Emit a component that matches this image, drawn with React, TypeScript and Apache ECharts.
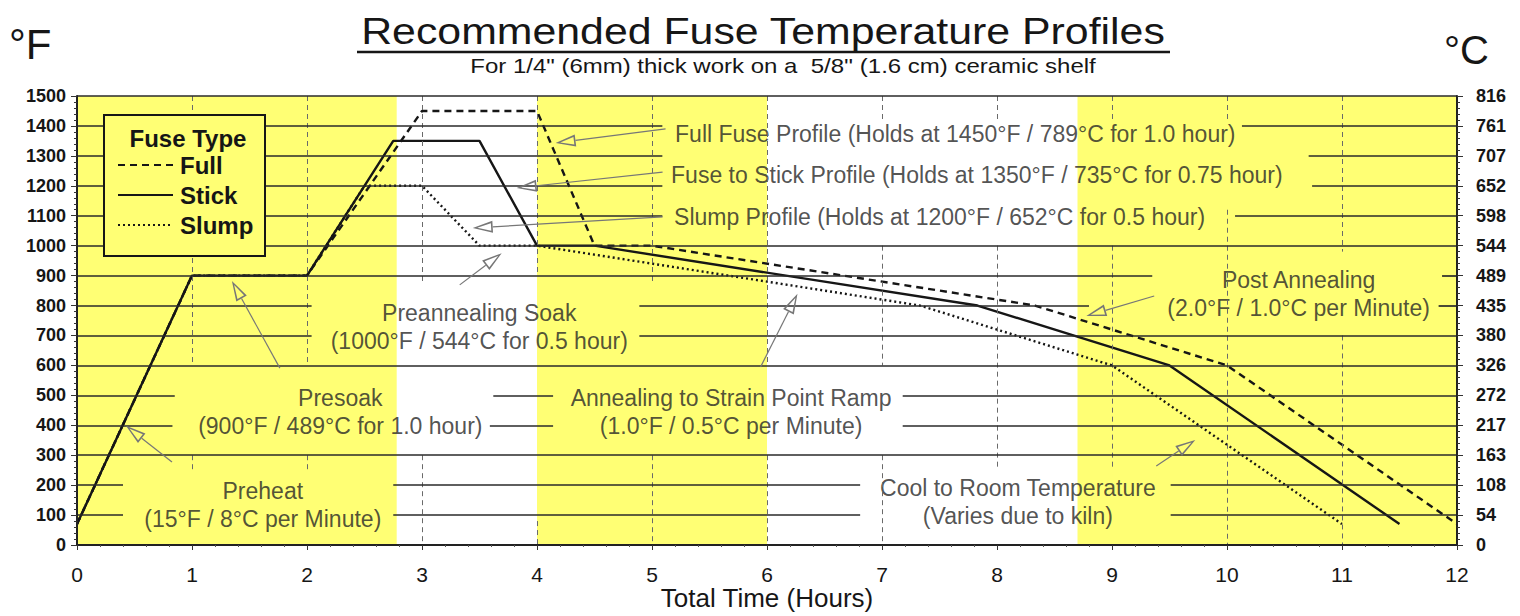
import { useEffect, useRef } from 'react';
import * as echarts from 'echarts';

// ---------------- data ----------------
const HOUR_TICKS = [0, 1, 2, 3, 4, 5, 6, 7, 8, 9, 10, 11, 12];
const FAHRENHEIT_MAX = 1500;
const CELSIUS_TICK_LABELS = ['0', '54', '108', '163', '217', '272', '326', '380', '435', '489', '544', '598', '652', '707', '761', '816'];

const FULL_TIME = [0, 1, 2, 3, 4, 4.5, 5, 8.33, 10, 12];
const FULL_TEMP = [70, 900, 900, 1450, 1450, 1000, 1000, 800, 600, 70];
const STICK_TIME = [0, 1, 2, 2.75, 3.5, 4, 4.5, 7.83, 9.5, 11.5];
const STICK_TEMP = [70, 900, 900, 1350, 1350, 1000, 1000, 800, 600, 70];
const SLUMP_TIME = [0, 1, 2, 2.5, 3, 3.5, 4, 7.33, 9, 11];
const SLUMP_TEMP = [70, 900, 900, 1200, 1200, 1000, 1000, 800, 600, 70];

const SHADED_PERIODS = [[0, 2.78], [4, 6], [8.7, 12]];

const SERIES_NAMES = ['Full', 'Stick', 'Slump'];
const TITLE = 'Recommended Fuse Temperature Profiles';
const SUBTITLE = 'For 1/4" (6mm) thick work on a  5/8\'\' (1.6 cm) ceramic shelf';
const ANNOTATION_TEXTS = [
  'Full Fuse Profile (Holds at 1450°F / 789°C for 1.0 hour)',
  'Fuse to Stick Profile (Holds at 1350°F / 735°C for 0.75 hour)',
  'Slump Profile (Holds at 1200°F / 652°C for 0.5 hour)',
  'Preannealing Soak\n(1000°F / 544°C for 0.5 hour)',
  'Presoak\n(900°F / 489°C for 1.0 hour)',
  'Preheat\n(15°F / 8°C per Minute)',
  'Annealing to Strain Point Ramp\n(1.0°F / 0.5°C per Minute)',
  'Post Annealing\n(2.0°F / 1.0°C per Minute)',
  'Cool to Room Temperature\n(Varies due to kiln)',
];

// ---------------- layout (not data) ----------------
const W = 1520;
const H = 616;
const GRID = { left: 77, right: 63, top: 96, bottom: 71 };
const PX_PER_HOUR = (W - GRID.left - GRID.right) / 12;
const PX_PER_DEG = (H - GRID.top - GRID.bottom) / FAHRENHEIT_MAX;
const FONT = "'Liberation Sans', Arial, Helvetica, sans-serif";
const YELLOW = '#ffff74';
const INK = '#161616';

const ANNOTATION_LAYOUT: { at: number[]; align: string }[] = [
  { at: [5.205, 1370], align: 'left' },
  { at: [5.17, 1233], align: 'left' },
  { at: [5.196, 1093], align: 'left' },
  { at: [3.502, 728], align: 'center' },
  { at: [2.294, 441], align: 'center' },
  { at: [1.62, 131], align: 'center' },
  { at: [5.692, 441], align: 'center' },
  { at: [10.627, 836], align: 'center' },
  { at: [8.186, 141], align: 'center' },
];

// [start, tip] of each leader arrow
const ARROW_LAYOUT: number[][][] = [
  [[5.118, 1390], [4.162, 1343]],
  [[5.092, 1246], [3.823, 1193]],
  [[5.092, 1096], [3.441, 1059]],
  [[3.328, 869], [3.693, 975]],
  [[1.764, 591], [1.347, 882]],
  [[0.826, 277], [0.426, 398]],
  [[5.944, 595], [6.265, 839]],
  [[9.367, 832], [8.777, 765]],
  [[9.385, 264], [9.724, 351]],
];

// horizontal rules, broken where the notes sit: [y, [[x1, x2], ...]]
const H_RULES: [number, number[][]][] = [
  [1500, [[0, 12]]],
  [1400, [[0, 5.09], [10.13, 12]]],
  [1300, [[0, 5.09], [10.71, 12]]],
  [1200, [[0, 5.09], [10.74, 12]]],
  [1100, [[0, 5.09], [10.07, 12]]],
  [1000, [[0, 12]]],
  [900, [[0, 9.35], [11.87, 12]]],
  [800, [[0, 2.04], [4.89, 8.8], [11.84, 12]]],
  [700, [[0, 2.04], [4.89, 12]]],
  [600, [[0, 12]]],
  [500, [[0, 0.85], [3.62, 4.14], [7.18, 12]]],
  [400, [[0, 0.83], [3.59, 4.14], [7.18, 12]]],
  [300, [[0, 12]]],
  [200, [[0, 0.4], [2.75, 6.81], [9.51, 12]]],
  [100, [[0, 0.4], [2.75, 6.81], [9.51, 12]]],
];

// dashed vertical rules: [x, [[yTop, yBottom], ...]]
const V_RULES: [number, number[][]][] = [
  [1, [[1500, 600], [300, 250]]],
  [2, [[1500, 600], [300, 250]]],
  [3, [[1500, 880], [300, 0]]],
  [4, [[1500, 900], [80, 0]]],
  [5, [[1500, 880], [300, 0]]],
  [6, [[1500, 600], [300, 0]]],
  [7, [[1500, 1420], [1000, 600], [300, 0]]],
  [8, [[1500, 1420], [1000, 250]]],
  [9, [[1500, 1420], [1000, 260]]],
  [10, [[1500, 1420], [1120, 0]]],
  [11, [[1500, 980], [700, 0]]],
];

const ARROW_HEAD = 'path://M0,0L10,20L-10,20ZM0,4.6L-6.3,18.4L6.3,18.4ZM0,40';

const zip = (xs: number[], ys: number[]) => xs.map((x, i) => [x, ys[i]]);
const seg = (a: number[], b: number[]) => [{ coord: a }, { coord: b }];

function arrowBase(start: number[], tip: number[], len: number) {
  const dx = (start[0] - tip[0]) * PX_PER_HOUR;
  const dy = (start[1] - tip[1]) * PX_PER_DEG;
  const d = Math.hypot(dx, dy);
  return [tip[0] + ((dx / d) * len) / PX_PER_HOUR, tip[1] + ((dy / d) * len) / PX_PER_DEG];
}

function gText(text: string, x: number, y: number, fontSize: number, opts: any = {}) {
  return {
    type: 'text',
    x,
    y,
    z: 30,
    scaleX: opts.scaleX ?? 1,
    silent: true,
    style: {
      text,
      fontSize,
      fontFamily: FONT,
      fontWeight: opts.weight ?? 'normal',
      fill: INK,
      align: opts.align ?? 'center',
      verticalAlign: opts.vAlign ?? 'middle',
      textAlign: opts.align ?? 'center',
      textVerticalAlign: opts.vAlign ?? 'middle',
    },
  };
}

function buildOption(): any {
  const hRuleData = H_RULES.flatMap(([y, spans]) => spans.map(([x1, x2]) => seg([x1, y], [x2, y])));
  const vRuleData = V_RULES.flatMap(([x, spans]) => spans.map(([y1, y2]) => seg([x, y1], [x, y2])));
  const arrowData = ARROW_LAYOUT.map(([start, tip]) => seg(start, arrowBase(start, tip, 20)));

  const profileStyles: any[] = [
    { type: [7, 5], width: 2.4 },
    { type: 'solid', width: 2.4 },
    { type: [2, 3], width: 2.4 },
  ];
  const profileData = [zip(FULL_TIME, FULL_TEMP), zip(STICK_TIME, STICK_TEMP), zip(SLUMP_TIME, SLUMP_TEMP)];

  return {
    animation: false,
    backgroundColor: '#ffffff',
    grid: { ...GRID, show: false, containLabel: false, outerBoundsMode: 'none' },
    legend: {
      show: true,
      data: SERIES_NAMES,
      orient: 'vertical',
      left: 112,
      top: 148,
      itemWidth: 55,
      itemHeight: 24,
      itemGap: 6,
      z: 40,
      selectedMode: false,
      itemStyle: { color: 'rgba(0,0,0,0)', opacity: 0, borderWidth: 0 },
      textStyle: { fontSize: 24, fontWeight: 'bold', fontFamily: FONT, color: INK, padding: [0, 0, 0, 2] },
    },
    xAxis: {
      type: 'value',
      z: 6,
      min: HOUR_TICKS[0],
      max: HOUR_TICKS[HOUR_TICKS.length - 1],
      interval: 1,
      name: 'Total Time (Hours)',
      nameLocation: 'middle',
      nameMoveOverlap: false,
      nameGap: 66,
      nameTextStyle: { fontSize: 26, fontFamily: FONT, color: INK, verticalAlign: 'bottom' },
      axisLine: { show: true, lineStyle: { color: '#222', width: 2 } },
      axisTick: { show: true, length: 5, lineStyle: { color: '#333' } },
      minorTick: { show: true, splitNumber: 5, length: 2, lineStyle: { color: '#555' } },
      axisLabel: { fontSize: 21, fontFamily: FONT, color: INK, margin: 19 },
      splitLine: { show: false },
    },
    yAxis: [
      {
        type: 'value',
        z: 6,
        min: 0,
        max: FAHRENHEIT_MAX,
        interval: 100,
        position: 'left',
        axisLine: { show: true, lineStyle: { color: '#222', width: 2 } },
        axisTick: { show: true, length: 6, lineStyle: { color: '#333' } },
        minorTick: { show: true, splitNumber: 5, length: 3, lineStyle: { color: '#333' } },
        axisLabel: {
          fontSize: 18,
          fontWeight: 'bold',
          fontFamily: FONT,
          color: INK,
          margin: 11,
          formatter: (v: number) => String(v),
        },
        splitLine: { show: false },
      },
      {
        type: 'value',
        z: 6,
        min: 0,
        max: FAHRENHEIT_MAX,
        interval: 100,
        position: 'right',
        axisLine: { show: true, lineStyle: { color: '#222', width: 2 } },
        axisTick: { show: true, length: 6, lineStyle: { color: '#333' } },
        minorTick: { show: true, splitNumber: 5, length: 3, lineStyle: { color: '#333' } },
        axisLabel: {
          fontSize: 18,
          fontWeight: 'bold',
          fontFamily: FONT,
          color: INK,
          margin: 19,
          formatter: (v: number) => CELSIUS_TICK_LABELS[Math.round(v / 100)] ?? '',
        },
        splitLine: { show: false },
      },
    ],
    graphic: {
      elements: [
        gText(TITLE, 763, 31, 36, { scaleX: 1.19 }),
        {
          type: 'line',
          z: 30,
          silent: true,
          shape: { x1: 357, y1: 52, x2: 1170, y2: 52 },
          style: { stroke: INK, lineWidth: 2.5 },
        },
        gText(SUBTITLE, 783, 66, 20, { scaleX: 1.2 }),
        gText('°F', 9, 44, 42, { align: 'left' }),
        gText('°C', 1444, 50, 40, { align: 'left' }),
        {
          type: 'rect',
          z: 30,
          silent: true,
          shape: { x: 104, y: 115, width: 161, height: 141 },
          style: { fill: YELLOW, stroke: INK, lineWidth: 2 },
        },
        gText('Fuse Type', 188, 138, 24, { weight: 'bold' }),
      ],
    },
    series: [
      {
        type: 'line',
        name: 'bands',
        data: [],
        z: 0,
        silent: true,
        markArea: {
          silent: true,
          itemStyle: { color: YELLOW },
          data: SHADED_PERIODS.map(([a, b]) => [{ xAxis: a }, { xAxis: b }]),
        },
      },
      {
        type: 'line',
        name: 'vrules',
        data: [],
        z: 1,
        silent: true,
        markLine: {
          silent: true,
          symbol: ['none', 'none'],
          label: { show: false },
          lineStyle: { color: '#6a6a6a', width: 1, type: [5, 4] },
          data: vRuleData,
        },
      },
      {
        type: 'line',
        name: 'hrules',
        data: [],
        z: 1,
        silent: true,
        markLine: {
          silent: true,
          symbol: ['none', 'none'],
          label: { show: false },
          lineStyle: { color: '#2a2a2a', width: 1.7, type: 'solid' },
          data: hRuleData,
        },
      },
      {
        type: 'line',
        name: 'arrows',
        data: [],
        z: 2,
        silent: true,
        markLine: {
          silent: true,
          symbol: ['none', ARROW_HEAD],
          symbolSize: [12, 40],
          label: { show: false },
          lineStyle: { color: '#777', width: 1.2, type: 'solid' },
          data: arrowData,
        },
      },
      ...SERIES_NAMES.map((name, i) => ({
        type: 'line',
        name,
        data: profileData[i],
        z: 3,
        silent: true,
        symbol: 'none',
        showSymbol: false,
        itemStyle: { color: 'rgba(0,0,0,0)' },
        lineStyle: { color: INK, ...profileStyles[i] },
      })),
      {
        type: 'scatter',
        name: 'notes',
        z: 4,
        silent: true,
        symbol: 'circle',
        symbolSize: 1,
        itemStyle: { color: 'rgba(0,0,0,0)' },
        label: {
          show: true,
          position: [0, 0],
          formatter: '{b}',
          fontSize: 23,
          lineHeight: 28,
          fontFamily: FONT,
          color: '#262626',
          verticalAlign: 'middle',
        },
        data: ANNOTATION_TEXTS.map((t, i) => ({
          name: t,
          value: ANNOTATION_LAYOUT[i].at,
          label: { align: ANNOTATION_LAYOUT[i].align },
        })),
      },
    ],
  };
}

export default function App() {
  const ref = useRef<HTMLDivElement>(null);
  useEffect(() => {
    if (!ref.current) return;
    const chart = echarts.init(ref.current, null, { renderer: 'svg' });
    chart.setOption(buildOption());
    return () => chart.dispose();
  }, []);
  return (
    <div
      ref={ref}
      style={{ position: 'fixed', left: 0, top: 0, width: W, height: H, background: '#fff' }}
    />
  );
}
